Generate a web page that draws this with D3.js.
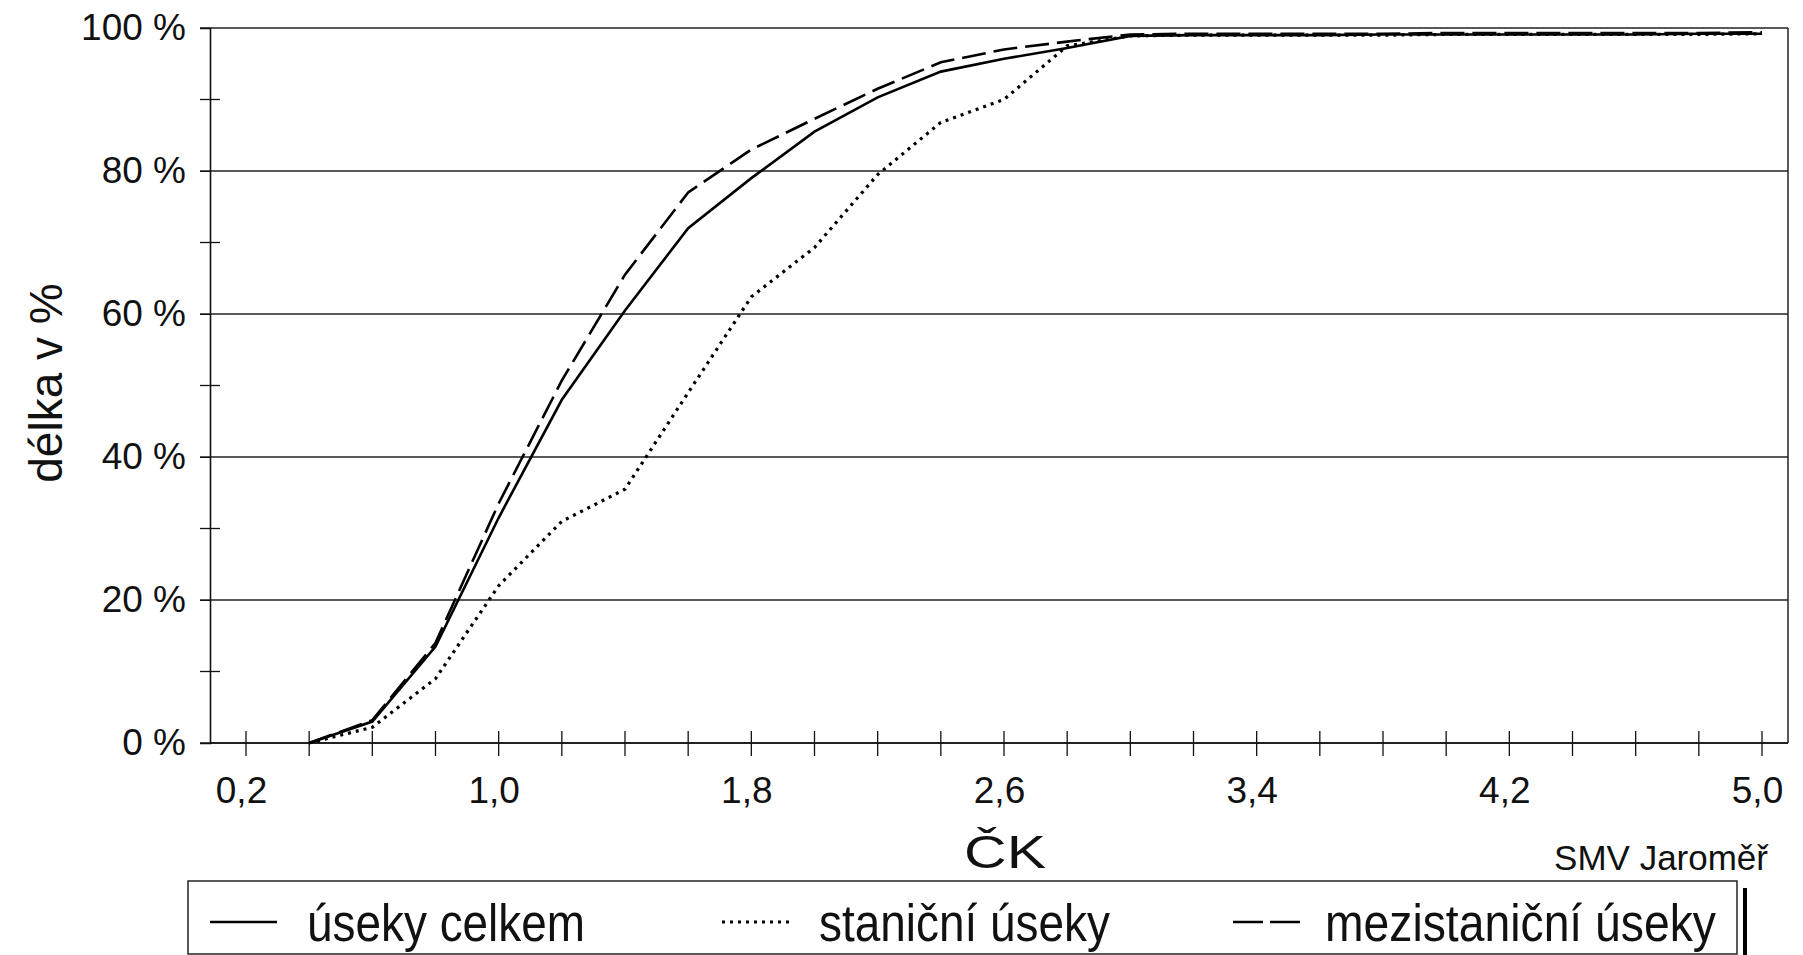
<!DOCTYPE html>
<html>
<head>
<meta charset="utf-8">
<script src="https://cdn.jsdelivr.net/npm/d3@7"></script>
<style>
  body { margin: 0; background: #fff; }
  svg text { font-family: "Liberation Sans", Arial, sans-serif; fill: #111; }
</style>
</head>
<body>
<div id="chart"></div>
<script>
// chart size
const width = 1803;
const height = 955;

// data (x = ČK, y = cumulative length in %)
const ckValues = [0.4, 0.6, 0.8, 1.0, 1.2, 1.4, 1.6, 1.8, 2.0, 2.2, 2.4, 2.6, 2.8, 3.0,
                  3.2, 3.4, 3.6, 3.8, 4.0, 4.2, 4.4, 4.6, 4.8, 5.0];
const celkem = [0, 3, 13.5, 31.5, 48, 60.5, 72, 79, 85.5, 90.3, 93.9, 95.7, 97.2, 98.9,
                99.0, 99.0, 99.0, 99.1, 99.1, 99.1, 99.1, 99.1, 99.2, 99.2];
const stanicni = [0, 2.2, 9, 22, 31, 35.5, 49, 62.4, 69.3, 79.5, 86.8, 90, 97.5, 98.9,
                  99.0, 99.0, 99.0, 99.0, 99.1, 99.1, 99.1, 99.1, 99.1, 99.2];
const mezistanicni = [0, 3.2, 14, 33.5, 50.7, 65.5, 77, 83, 87.3, 91.5, 95.2, 97, 98.1, 99.1,
                      99.2, 99.2, 99.2, 99.2, 99.3, 99.3, 99.3, 99.3, 99.3, 99.4];

const seriesNames = ["úseky celkem", "staniční úseky", "mezistaniční úseky"];
const yTicks = [0, 20, 40, 60, 80, 100];
const yMinorTicks = [10, 30, 50, 70, 90];
const xLabelTicks = [0.2, 1.0, 1.8, 2.6, 3.4, 4.2, 5.0];
const xMinorTicks = [0.2, 0.4, 0.6, 0.8, 1.0, 1.2, 1.4, 1.6, 1.8, 2.0, 2.2, 2.4, 2.6,
                     2.8, 3.0, 3.2, 3.4, 3.6, 3.8, 4.0, 4.2, 4.4, 4.6, 4.8, 5.0];

const plot = {left: 210, right: 1788, top: 28, bottom: 743};

const svg = d3.select("#chart")
  .append("svg")
  .attr("width", width)
  .attr("height", height);

const x = d3.scaleLinear().domain([0.2, 5.0]).range([246, 1762]);
const y = d3.scaleLinear().domain([0, 100]).range([plot.bottom, plot.top]);

const comma = v => d3.format(".1f")(v).replace(".", ",");

// horizontal grid lines
svg.append("g")
  .selectAll("line")
  .data(yTicks)
  .join("line")
    .attr("x1", plot.left - 10)
    .attr("x2", plot.right)
    .attr("y1", d => y(d))
    .attr("y2", d => y(d))
    .attr("stroke", "#222")
    .attr("stroke-width", 1.3);

// right border
svg.append("line")
  .attr("x1", plot.right).attr("x2", plot.right)
  .attr("y1", plot.top).attr("y2", plot.bottom)
  .attr("stroke", "#222").attr("stroke-width", 1.5);

// y axis
const yAxis = svg.append("g")
  .attr("transform", `translate(${plot.left},0)`)
  .call(d3.axisLeft(y).tickValues(yTicks).tickSize(10).tickFormat(d => d + " %"));
yAxis.select(".domain").attr("stroke", "#111").attr("stroke-width", 1.6);
yAxis.selectAll(".tick line").attr("stroke", "#111");
yAxis.selectAll(".tick text")
  .attr("x", -24)
  .attr("font-size", 37)
  .attr("font-family", "Liberation Sans, Arial, sans-serif");

// y minor cross ticks
svg.append("g")
  .selectAll("line")
  .data(yMinorTicks)
  .join("line")
    .attr("x1", plot.left - 10)
    .attr("x2", plot.left + 10)
    .attr("y1", d => y(d))
    .attr("y2", d => y(d))
    .attr("stroke", "#111")
    .attr("stroke-width", 1.3);

// x axis
const xAxis = svg.append("g")
  .attr("transform", `translate(0,${plot.bottom})`)
  .call(d3.axisBottom(x).tickValues(xLabelTicks).tickSize(0).tickPadding(34).tickFormat(comma));
xAxis.select(".domain").remove();
xAxis.selectAll(".tick text")
  .attr("font-size", 37)
  .attr("dx", -5)
  .attr("font-family", "Liberation Sans, Arial, sans-serif");

svg.append("line")
  .attr("x1", plot.left).attr("x2", plot.right)
  .attr("y1", plot.bottom).attr("y2", plot.bottom)
  .attr("stroke", "#111").attr("stroke-width", 1.6);

// x cross ticks
svg.append("g")
  .selectAll("line")
  .data(xMinorTicks)
  .join("line")
    .attr("x1", d => x(d))
    .attr("x2", d => x(d))
    .attr("y1", plot.bottom - 12)
    .attr("y2", plot.bottom + 13)
    .attr("stroke", "#111")
    .attr("stroke-width", 1.3);

// lines
const line = d3.line()
  .x((d, i) => x(ckValues[i]))
  .y(d => y(d));

const styles = [
  {data: celkem, dash: null, legendDash: null, w: 2.6},
  {data: stanicni, dash: "3,5", legendDash: "3,5", w: 3.2},
  {data: mezistanicni, dash: "24,8", legendDash: "30,7", w: 2.6}
];

svg.append("g")
  .selectAll("path")
  .data(styles)
  .join("path")
    .attr("d", d => line(d.data))
    .attr("fill", "none")
    .attr("stroke", "#000")
    .attr("stroke-width", d => d.w)
    .attr("stroke-dasharray", d => d.dash);

// axis titles
svg.append("text")
  .attr("transform", "translate(62,383) rotate(-90)")
  .attr("text-anchor", "middle")
  .attr("font-size", 46)
  .text("délka v %");

svg.append("text")
  .attr("x", 1005)
  .attr("y", 868)
  .attr("text-anchor", "middle")
  .attr("font-size", 46)
  .attr("textLength", 82)
  .attr("lengthAdjust", "spacingAndGlyphs")
  .text("ČK");

svg.append("text")
  .attr("x", 1768)
  .attr("y", 870)
  .attr("text-anchor", "end")
  .attr("font-size", 35)
  .text("SMV Jaroměř");

// legend
const legend = svg.append("g");
legend.append("rect")
  .attr("x", 188).attr("y", 881)
  .attr("width", 1549).attr("height", 73)
  .attr("fill", "none")
  .attr("stroke", "#222")
  .attr("stroke-width", 1.5);
legend.append("line")
  .attr("x1", 1745).attr("x2", 1745)
  .attr("y1", 888).attr("y2", 955)
  .attr("stroke", "#000").attr("stroke-width", 4);

const legendItems = [
  {x1: 210, x2: 277, tx: 307, tw: 278},
  {x1: 722, x2: 791, tx: 819, tw: 291},
  {x1: 1233, x2: 1300, tx: 1325, tw: 391}
];

legendItems.forEach((it, i) => {
  legend.append("line")
    .attr("x1", it.x1).attr("x2", it.x2)
    .attr("y1", 922).attr("y2", 922)
    .attr("stroke", "#000")
    .attr("stroke-width", styles[i].w)
    .attr("stroke-dasharray", styles[i].legendDash);
  legend.append("text")
    .attr("x", it.tx)
    .attr("y", 941)
    .attr("font-size", 51)
    .attr("textLength", it.tw)
    .attr("lengthAdjust", "spacingAndGlyphs")
    .text(seriesNames[i]);
});
</script>
</body>
</html>
